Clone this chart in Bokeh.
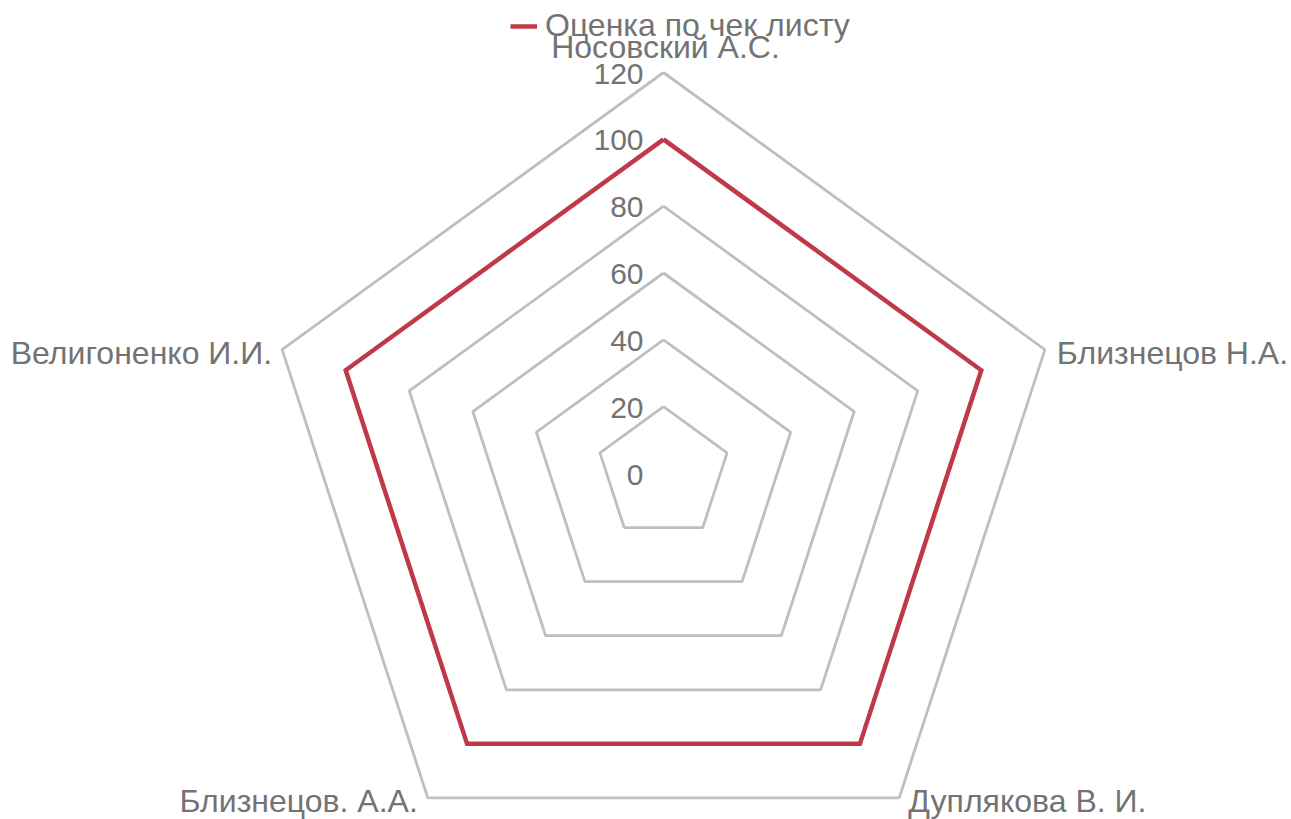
import numpy as np
from bokeh.plotting import figure
from bokeh.models import Range1d, Legend, LegendItem, ColumnDataSource
from bokeh.core.properties import value
from bokeh.embed import file_html
from bokeh.resources import INLINE

categories = ["Носовский А.С.", "Близнецов Н.А.", "Дуплякова В. И.", "Близнецов. А.А.", "Велигоненко И.И."]
scores = [100, 100, 100, 100, 100]
series_name = "Оценка по чек листу"
ticks = [0, 20, 40, 60, 80, 100, 120]
tick_labels = ["0", "20", "40", "60", "80", "100", "120"]
r_max = 120

W, H = 1291, 819
k = 401 / 120.0  # px per unit
cx, cy = 663, 473  # centre in canvas px
FONT = "Liberation Sans"
GRAY = "#737373"

p = figure(width=W, height=H, output_backend="svg", toolbar_location=None,
           x_range=Range1d(-cx / k, (W - cx) / k), y_range=Range1d(-(H - cy) / k, cy / k),
           min_border=0)
p.axis.visible = False
p.grid.visible = False
p.outline_line_color = None
p.background_fill_color = "white"
p.border_fill_color = "white"

n = len(categories)
ang = np.pi / 2 - np.arange(n) * 2 * np.pi / n
ux, uy = np.cos(ang), np.sin(ang)

# rings
xs, ys = [], []
for t in ticks[1:]:
    xs.append(list(np.append(ux * t, ux[0] * t)))
    ys.append(list(np.append(uy * t, uy[0] * t)))
p.multi_line(xs, ys, line_color="#bfbfbf", line_width=2.8)

# series
sv = np.array(scores, dtype=float)
r = p.line(list(np.append(ux * sv, ux[0] * sv[0])), list(np.append(uy * sv, uy[0] * sv[0])),
           line_color="#c0394b", line_width=4.5, line_join="miter")

# tick labels
p.text(x=[0] * len(ticks), y=ticks, text=tick_labels, text_align="right", text_baseline="middle",
       x_offset=-20, y_offset=1, text_font=value(FONT), text_font_size="30px", text_color=GRAY)

# category labels
lx = list(ux * r_max)
ly = list(uy * r_max)
aligns = ["center", "left", "left", "right", "right"]
baselines = ["middle", "middle", "middle", "middle", "middle"]
xo = [2, 12, 9, -10, -10]
yo = [-26, 3, 3, 3, 3]
src = ColumnDataSource(dict(x=lx, y=ly, t=categories, a=aligns, b=baselines, xo=xo, yo=yo))
p.text(x="x", y="y", text="t", text_align="a", text_baseline="b", x_offset="xo", y_offset="yo",
       source=src, text_font=value(FONT), text_font_size="32px", text_color=GRAY)

legend = Legend(items=[LegendItem(label=series_name, renderers=[r])], location=(510, 775),
                orientation="horizontal", background_fill_alpha=0, border_line_color=None,
                label_text_font=FONT, label_text_font_size="32px", label_text_color=GRAY,
                glyph_width=27, label_standoff=8, padding=0, margin=0, spacing=0)
p.add_layout(legend)

open("out.html", "w").write(file_html(p, INLINE))
